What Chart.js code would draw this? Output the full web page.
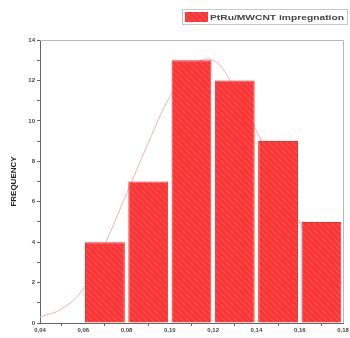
<!DOCTYPE html>
<html>
<head>
<meta charset="utf-8">
<script src="https://cdn.jsdelivr.net/npm/chart.js@4/dist/chart.umd.min.js"></script>
<style>
  html, body { margin: 0; padding: 0; background: #fff; }
  #wrap { width: 350px; height: 338px; position: relative; }
</style>
</head>
<body>
<div id="wrap"><canvas id="histChart"></canvas></div>
<script>
// histogram bins (centres) and counts
var binCenters = [0.07, 0.09, 0.11, 0.13, 0.15, 0.17];
var counts = [4, 7, 13, 12, 9, 5];
// fitted distribution curve
var curveX = [0.04, 0.05, 0.06, 0.07, 0.08, 0.09, 0.10, 0.11, 0.12, 0.13, 0.14, 0.15, 0.16, 0.17, 0.18];
var curveY = [0.3, 0.7, 1.7, 3.9, 6.4, 8.9, 11.2, 12.7, 13.0, 11.6, 9.5, 7.2, 5.0, 3.2, 1.9];
var xTicks = [0.04, 0.06, 0.08, 0.10, 0.12, 0.14, 0.16, 0.18];
var seriesName = 'PtRu/MWCNT impregnation';

function hatch() {
    var c = document.createElement('canvas');
    c.width = 6; c.height = 6;
    var g = c.getContext('2d');
    g.fillStyle = '#fa3636';
    g.fillRect(0, 0, 6, 6);
    g.strokeStyle = 'rgba(255,110,110,0.55)';
    g.lineWidth = 1;
    g.beginPath();
    g.moveTo(-1, -1); g.lineTo(7, 7);
    g.moveTo(-4, 2); g.lineTo(4, 10);
    g.moveTo(2, -4); g.lineTo(10, 4);
    g.stroke();
    return g.createPattern(c, 'repeat');
}

var barFill = hatch();

var framePlugin = {
    id: 'frame',
    afterDraw: function (chart) {
        var ctx = chart.ctx, a = chart.chartArea;
        ctx.save();
        ctx.strokeStyle = '#b8b8b8';
        ctx.lineWidth = 1;
        ctx.beginPath();
        ctx.moveTo(a.left, a.top + 0.5);
        ctx.lineTo(a.right + 0.5, a.top + 0.5);
        ctx.lineTo(a.right + 0.5, a.bottom);
        ctx.stroke();
        // legend box
        var lx = 182, ly = 9, lw = 165, lh = 15;
        ctx.strokeStyle = '#c8c8c8';
        ctx.strokeRect(lx + 0.5, ly + 0.5, lw, lh);
        ctx.fillStyle = barFill;
        ctx.fillRect(lx + 3, ly + 3, 23, 10);
        ctx.fillStyle = '#444';
        ctx.font = 'bold 8px Arial';
        ctx.textBaseline = 'middle';
        var tw = ctx.measureText(seriesName).width;
        var target = 134;
        ctx.translate(lx + 28, ly + 8.5);
        ctx.scale(target / tw, 1);
        ctx.fillText(seriesName, 0, 0);
        ctx.restore();
    }
};

var ctx = document.getElementById('histChart').getContext('2d');
new Chart(ctx, {
    type: 'bar',
    data: {
        datasets: [{
            type: 'line',
            label: 'fit',
            data: curveX.map(function (x, i) { return { x: x, y: curveY[i] }; }),
            borderColor: '#e9b4b4',
            borderWidth: 1,
            pointRadius: 0,
            tension: 0.4,
            fill: false,
            order: 5
        }, {
            type: 'bar',
            label: seriesName,
            data: binCenters.map(function (x, i) { return { x: x, y: counts[i] }; }),
            backgroundColor: barFill,
            borderColor: '#ee3030',
            borderWidth: 1,
            barPercentage: 0.92,
            categoryPercentage: 1.0,
            order: 0
        }]
    },
    options: {
        responsive: true,
        maintainAspectRatio: false,
        animation: false,
        layout: { padding: { top: 40, right: 7, left: 0, bottom: 0 } },
        plugins: {
            legend: { display: false },
            tooltip: { enabled: false }
        },
        scales: {
            x: {
                type: 'linear',
                min: 0.04,
                max: 0.18,
                offset: false,
                afterBuildTicks: function (scale) {
                    scale.ticks = xTicks.map(function (v) { return { value: v }; });
                },
                afterFit: function (scale) { scale.height = 15; },
                grid: { drawOnChartArea: false, tickLength: 3, color: '#666' },
                border: { color: '#666' },
                ticks: {
                    padding: 1,
                    maxRotation: 0,
                    autoSkip: false,
                    color: '#444',
                    font: { size: 6, family: 'Arial', weight: 'bold' },
                    callback: function (v) { return v.toFixed(2).replace('.', ','); }
                }
            },
            y: {
                min: 0,
                max: 14,
                afterFit: function (scale) { scale.width = 40; },
                grid: { drawOnChartArea: false, tickLength: 3, color: '#666' },
                border: { color: '#666' },
                title: {
                    display: true,
                    text: 'FREQUENCY',
                    color: '#222',
                    padding: { top: 9, bottom: 0 },
                    font: { size: 8, family: 'Arial', weight: 'bold' }
                },
                ticks: {
                    stepSize: 1,
                    padding: 2,
                    autoSkip: false,
                    color: '#444',
                    font: { size: 6, family: 'Arial', weight: 'bold' },
                    callback: function (v) { return v % 2 === 0 ? v : ''; }
                }
            }
        }
    },
    plugins: [framePlugin]
});
</script>
</body>
</html>
